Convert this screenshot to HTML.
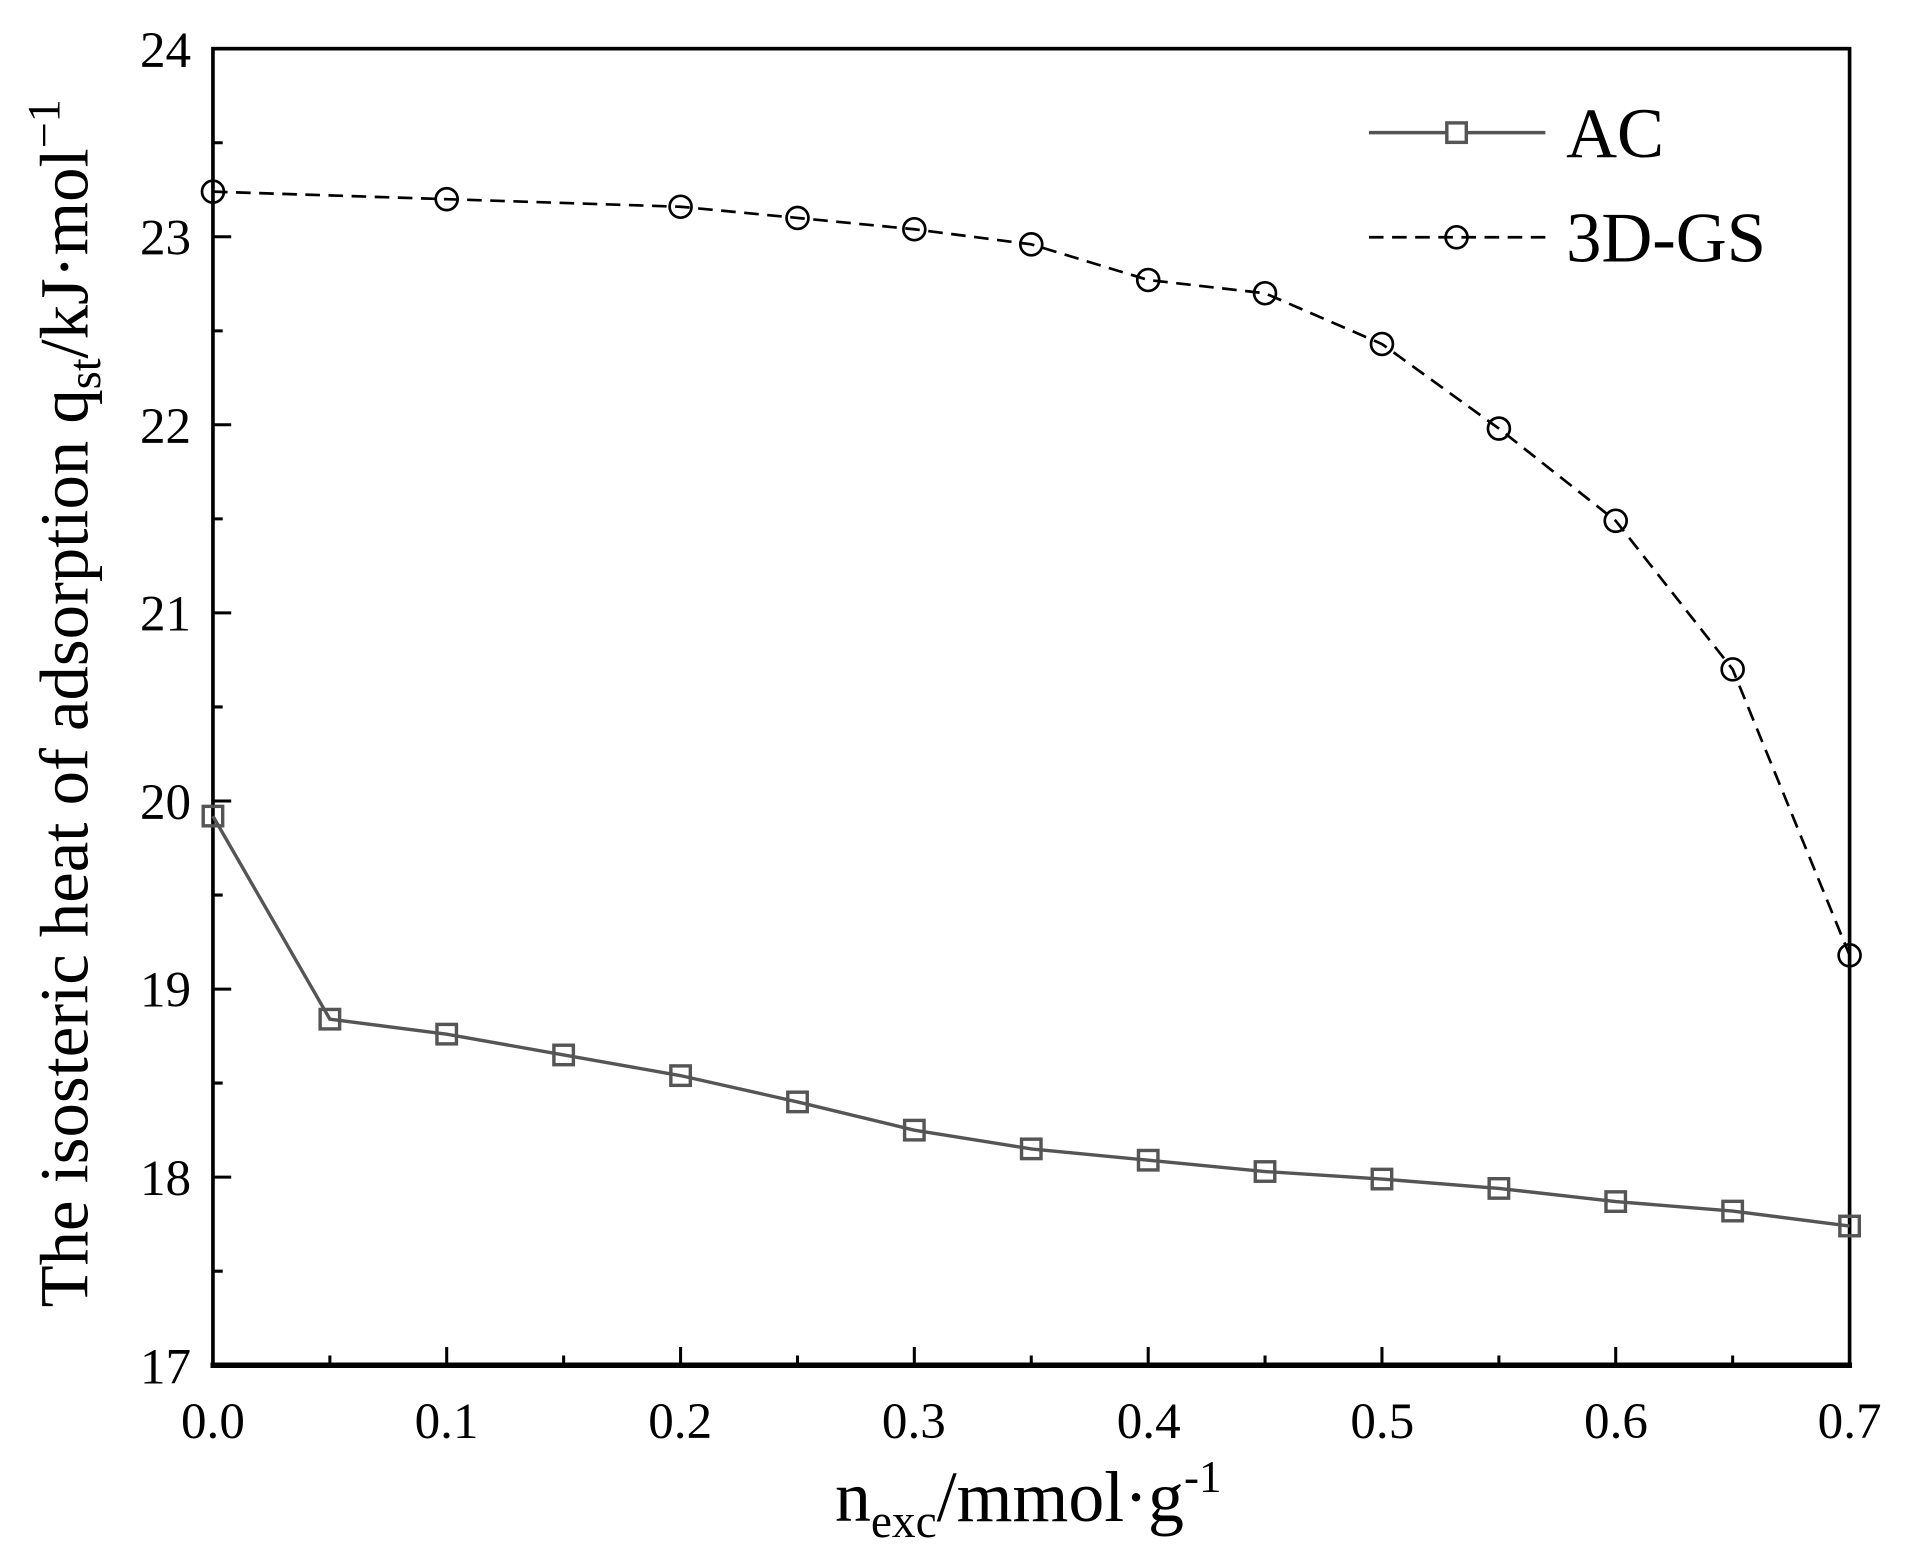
<!DOCTYPE html>
<html><head><meta charset="utf-8"><style>html,body{margin:0;padding:0;background:#fff}svg{display:block}</style></head>
<body>
<svg width="1908" height="1566" viewBox="0 0 1568 1287" preserveAspectRatio="none" xmlns="http://www.w3.org/2000/svg" font-family="Liberation Serif, serif">
<rect width="1568" height="1287" fill="#fff"/>
<g stroke="#000" stroke-width="2.5">
<path d="M175 40h15M175 194.6h15M175 349.1h15M175 503.7h15M175 658.3h15M175 812.9h15M175 967.4h15
M175 117.3h8M175 271.9h8M175 426.4h8M175 581h8M175 735.6h8M175 890.1h8M175 1044.7h8"/>
<path d="M367.1 1122v-15M559.3 1122v-15M751.4 1122v-15M943.6 1122v-15M1135.7 1122v-15M1327.8 1122v-15
M271.1 1122v-8M463.2 1122v-8M655.4 1122v-8M847.5 1122v-8M1039.6 1122v-8M1231.8 1122v-8M1423.9 1122v-8"/>
</g>
<rect x="175" y="40" width="1345" height="1082" fill="none" stroke="#000" stroke-width="3"/>
<line x1="173" y1="1122" x2="1522" y2="1122" stroke="#000" stroke-width="4.5"/>
<polyline fill="none" stroke="#000" stroke-width="2.2" stroke-dasharray="12,7" points="175,157.5 367.1,163.7 559.3,169.9 655.4,179.1 751.4,188.4 847.5,200.8 943.6,230.1 1039.6,241 1135.7,282.7 1231.8,352.2 1327.8,428 1423.9,550.1 1520,785.1"/>
<g fill="none" stroke="#000" stroke-width="2.2">
<circle cx="175" cy="157.5" r="9"/><circle cx="367.1" cy="163.7" r="9"/><circle cx="559.3" cy="169.9" r="9"/><circle cx="655.4" cy="179.1" r="9"/><circle cx="751.4" cy="188.4" r="9"/><circle cx="847.5" cy="200.8" r="9"/><circle cx="943.6" cy="230.1" r="9"/><circle cx="1039.6" cy="241" r="9"/><circle cx="1135.7" cy="282.7" r="9"/><circle cx="1231.8" cy="352.2" r="9"/><circle cx="1327.8" cy="428" r="9"/><circle cx="1423.9" cy="550.1" r="9"/><circle cx="1520" cy="785.1" r="9"/>
</g>
<polyline fill="none" stroke="#555" stroke-width="2.8" points="175,670.7 271.1,837.6 367.1,849.9 463.2,867 559.3,884 655.4,905.6 751.4,928.8 847.5,944.2 943.6,953.5 1039.6,962.8 1135.7,969 1231.8,976.7 1327.8,987.5 1423.9,995.3 1520,1007.6"/>
<g fill="none" stroke="#555" stroke-width="2.8">
<rect x="167" y="662.7" width="16" height="16"/><rect x="263.1" y="829.6" width="16" height="16"/><rect x="359.1" y="841.9" width="16" height="16"/><rect x="455.2" y="859" width="16" height="16"/><rect x="551.3" y="876" width="16" height="16"/><rect x="647.4" y="897.6" width="16" height="16"/><rect x="743.4" y="920.8" width="16" height="16"/><rect x="839.5" y="936.2" width="16" height="16"/><rect x="935.6" y="945.5" width="16" height="16"/><rect x="1031.6" y="954.8" width="16" height="16"/><rect x="1127.7" y="961" width="16" height="16"/><rect x="1223.8" y="968.7" width="16" height="16"/><rect x="1319.8" y="979.5" width="16" height="16"/><rect x="1415.9" y="987.3" width="16" height="16"/><rect x="1512" y="999.6" width="16" height="16"/>
</g>
<line x1="1125" y1="109" x2="1270" y2="109" stroke="#555" stroke-width="2.8"/>
<rect x="1189" y="101" width="16" height="16" fill="#fff" stroke="#555" stroke-width="2.8"/>
<text x="1287" y="129" font-size="58">AC</text>
<line x1="1125" y1="195" x2="1270" y2="195" stroke="#000" stroke-width="2.2" stroke-dasharray="12,7"/>
<circle cx="1197" cy="195" r="9" fill="none" stroke="#000" stroke-width="2.2"/>
<text x="1287" y="215" font-size="58">3D-GS</text>
<g font-size="42" text-anchor="end">
<text x="157" y="55">24</text><text x="157" y="209">23</text><text x="157" y="364">22</text><text x="157" y="518">21</text><text x="157" y="673">20</text><text x="157" y="827">19</text><text x="157" y="982">18</text><text x="157" y="1137">17</text>
</g>
<g font-size="42" text-anchor="middle">
<text x="175" y="1182">0.0</text><text x="367" y="1182">0.1</text><text x="559" y="1182">0.2</text><text x="751" y="1182">0.3</text><text x="944" y="1182">0.4</text><text x="1136" y="1182">0.5</text><text x="1328" y="1182">0.6</text><text x="1520" y="1182">0.7</text>
</g>
<text x="845" y="1250" font-size="59" text-anchor="middle">n<tspan font-size="39" dy="13">exc</tspan><tspan dy="-13">/mmol·g</tspan><tspan font-size="37" dy="-24">-1</tspan></text>
<text transform="translate(72,578) rotate(-90)" font-size="56.5" text-anchor="middle">The isosteric heat of adsorption q<tspan font-size="38" dy="10">st</tspan><tspan dy="-10">/kJ·mol</tspan><tspan font-size="38" dy="-23">−1</tspan></text>
</svg>
</body></html>
